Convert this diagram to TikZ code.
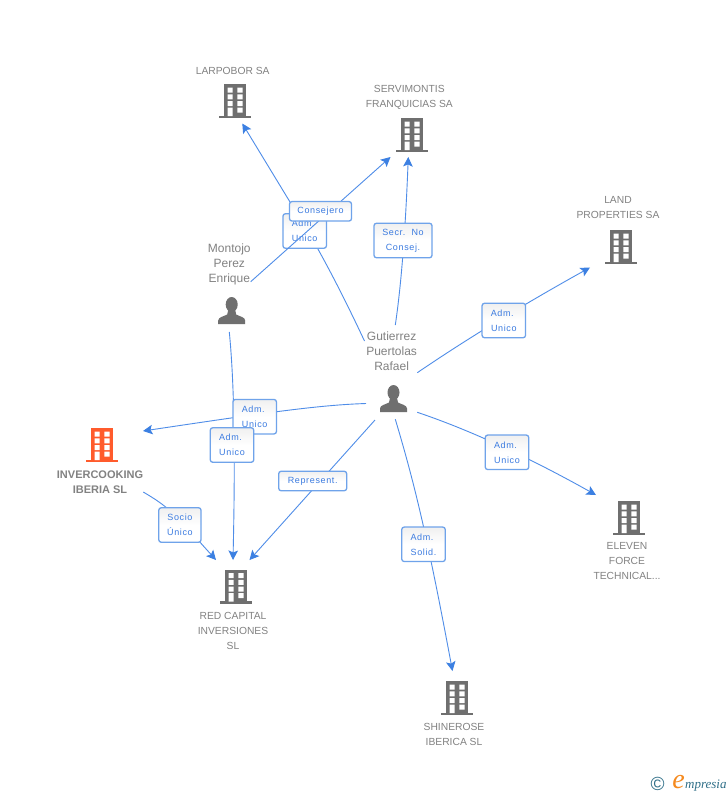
\documentclass[tikz,border=0pt]{standalone}
\usepackage{fontspec}
\usepackage{graphicx}
\setmainfont{Liberation Sans}
\newfontfamily\edgefont[LetterSpace=7]{Liberation Sans}
\newfontfamily\logofont{Liberation Serif}
\usetikzlibrary{arrows.meta}
\definecolor{icongrey}{HTML}{6F6F6F}
\definecolor{iconorange}{HTML}{FF5B2C}
\definecolor{labelgrey}{HTML}{828282}
\definecolor{linkblue}{HTML}{4F8DE8}
\definecolor{tipblue}{HTML}{3C80E2}
\definecolor{boxblue}{HTML}{6FA3EA}
\definecolor{edgetext}{HTML}{3B7BE0}
\definecolor{logoteal}{HTML}{2F6F88}
\definecolor{logoorange}{HTML}{F58A1F}
\newcommand{\tsp}{\kern3pt}
% building: name, centre x, top y, colour
\newcommand{\buildingicon}[4]{%
  \node[iconanchor] (#1) at (#2,#3+17) {};
  \begin{scope}[shift={(#2,#3)}]
    \fill[#4] (-11,0) rectangle (11,32);
    \fill[#4] (-16,31.5) rectangle (16,34);
    \fill[white] (-7.3,3.7) rectangle (-2.3,8.7) (2.3,3.7) rectangle (7.7,8.7)
      (-7.3,10.3) rectangle (-2.3,15.3) (2.3,10.3) rectangle (7.7,15.3)
      (-7.3,17) rectangle (-2.3,22) (2.3,17) rectangle (7.7,22)
      (-7.3,23.7) rectangle (-2.3,32) (2.3,23.7) rectangle (7.7,28.7);
  \end{scope}}
% person: name, centre x, top y
\newcommand{\personicon}[3]{%
  \node[iconanchor] (#1) at (#2,#3+13.5) {};
  \begin{scope}[shift={(#2,#3)}]
    \fill[icongrey] (0,7.5) ellipse [x radius=6,y radius=7.5];
    \fill[icongrey] (-13.5,27) -- (-13.5,23.5) .. controls (-13.3,20) and (-8,19.5) .. (-4.5,17.5)
      -- (-3.5,13) -- (3.5,13) -- (4.5,17.5) .. controls (8,19.5) and (13.3,20) .. (13.5,23.5) -- (13.5,27) -- cycle;
  \end{scope}}
\tikzset{
  x=1pt,y=-1pt,
  iconanchor/.style={inner sep=0pt,minimum width=22pt,minimum height=27pt},
  companylabel/.style={text=labelgrey,align=center,inner sep=0pt,font=\fontsize{10.3}{15}\selectfont},
  personlabel/.style={text=labelgrey,align=center,inner sep=0pt,font=\fontsize{12}{15}\selectfont},
  mainlabel/.style={text=labelgrey,align=center,inner sep=0pt,font=\fontsize{11}{15}\selectfont\bfseries},
  linkline/.style={draw=linkblue,line width=0.9pt,-{Stealth[length=9.5pt,width=9.5pt,inset=2pt,color=tipblue]}},
  linkbox/.style={draw=boxblue,line width=1.3pt,rounded corners=2.5pt,top color=black!6,bottom color=white,
    middle color=white,text=edgetext,align=center,inner sep=0pt,
    font=\edgefont\fontsize{9}{15}\selectfont},
  wide/.style={minimum width=62pt,minimum height=19.5pt},
  wider/.style={minimum width=68pt,minimum height=19.5pt},
  tall/.style={minimum width=43.5pt,minimum height=34.5pt},
  talllong/.style={minimum width=58pt,minimum height=34.5pt},
}
\begin{document}
\begin{tikzpicture}
\useasboundingbox[fill=white] (0,0) rectangle (728,795);

% icons
\buildingicon{larpobor}{235}{84}{icongrey}
\buildingicon{servimontis}{412}{118}{icongrey}
\buildingicon{land}{621}{230}{icongrey}
\buildingicon{eleven}{629}{501}{icongrey}
\buildingicon{redcapital}{236}{569.5}{icongrey}
\buildingicon{shinerose}{457}{681}{icongrey}
\buildingicon{invercooking}{102}{428}{iconorange}
\personicon{montojo}{231.7}{297}
\personicon{gutierrez}{393.5}{385}

% labels
\node[companylabel] (tlarpobor) at (232.7,70.5) {LARPOBOR SA};
\node[companylabel] (tservimontis) at (409.3,97) {SERVIMONTIS\\FRANQUICIAS SA};
\node[companylabel] (tland) at (618,208) {LAND\\PROPERTIES SA};
\node[companylabel] (televen) at (627,561.5) {ELEVEN\\FORCE\\TECHNICAL...};
\node[companylabel] (tredcapital) at (233,630.5) {RED CAPITAL\\INVERSIONES\\SL};
\node[companylabel] (tshinerose) at (454,734) {SHINEROSE\\IBERICA SL};
\node[mainlabel] (tinvercooking) at (100,482) {INVERCOOKING\\IBERIA SL};
\node[personlabel] (tmontojo) at (229.3,264) {Montojo\\Perez\\Enrique};
\node[personlabel] (tgutierrez) at (391.6,351.3) {Gutierrez\\Puertolas\\Rafael};

% connector end points
\coordinate (gLarStart) at (364.5,341);
\coordinate (gLarTip) at (242.3,123.5);
\coordinate (mSerStart) at (250.7,281.7);
\coordinate (mSerTip) at (390.5,157);
\coordinate (gSerStart) at (395.3,325);
\coordinate (gSerTip) at (408.3,157);
\coordinate (gLanStart) at (417.3,372.7);
\coordinate (gLanTip) at (590,267.5);
\coordinate (gEleStart) at (417.3,412.3);
\coordinate (gEleTip) at (596,495);
\coordinate (gShiStart) at (395.3,419.3);
\coordinate (gShiTip) at (452.5,671);
\coordinate (gInvStart) at (366,403.5);
\coordinate (gInvTip) at (143,431);
\coordinate (gRedStart) at (375,420);
\coordinate (gRedTip) at (249.5,560);
\coordinate (mRedStart) at (229.3,332);
\coordinate (mRedTip) at (233,560);
\coordinate (iRedStart) at (143.3,492);
\coordinate (iRedTip) at (216,560);

% connectors and their labels, bottom to top
\draw[linkline] (gLarStart) .. controls (342,293) and (318,246) .. (290,202) -- (gLarTip);
\node[linkbox,tall] (lAdmA) at (304.7,231) {Adm.\tsp\\Unico};
\draw[linkline] (mSerStart) -- (mSerTip);
\node[linkbox,wide] (lCons) at (320.5,211.3) {Consejero};

\draw[linkline] (gSerStart) .. controls (400.5,290) and (405,240) .. (gSerTip);
\node[linkbox,talllong] (lSecr) at (403,240.5) {Secr.\ \ No\\Consej.};

\draw[linkline] (gLanStart) .. controls (455,347) and (510,312) .. (gLanTip);
\node[linkbox,tall] (lAdmB) at (503.8,320.5) {Adm.\tsp\\Unico};

\draw[linkline] (gEleStart) .. controls (470,430) and (530,458) .. (gEleTip);
\node[linkbox,tall] (lAdmC) at (507,452.3) {Adm.\tsp\\Unico};

\draw[linkline] (gShiStart) .. controls (415,485) and (428,540) .. (gShiTip);
\node[linkbox,tall] (lSolid) at (423.5,544.3) {Adm.\tsp\\Solid.};

\draw[linkline] (mRedStart) .. controls (235,390) and (235,470) .. (mRedTip);
\draw[linkline] (gInvStart) .. controls (320,405) and (270,412) .. (gInvTip);
\node[linkbox,tall] (lAdmD) at (254.7,416.7) {Adm.\tsp\\Unico};
\node[linkbox,tall] (lAdmE) at (232,445) {Adm.\tsp\\Unico};

\draw[linkline] (gRedStart) -- (gRedTip);
\node[linkbox,wider] (lRepr) at (312.7,481) {Represent.};

\draw[linkline] (iRedStart) .. controls (155,499) and (165,505) .. (180,520) -- (iRedTip);
\node[linkbox,minimum width=42.3pt,minimum height=34.5pt] (lSocio) at (179.9,525) {Socio\\Único};

% logo
\node[text=logoteal,inner sep=0pt,font=\fontsize{19}{19}\selectfont] (logoC) at (657.7,784) {©};
\node[text=logoorange,inner sep=0pt,anchor=base,font=\logofont\itshape\fontsize{28}{28}\selectfont] (logoE) at (678.5,788) {e};
\node[text=logoteal,inner sep=0pt,anchor=base west,font=\logofont\itshape\fontsize{13}{13}\selectfont] (logoT) at (685,788) {mpresia};
\end{tikzpicture}
\end{document}
